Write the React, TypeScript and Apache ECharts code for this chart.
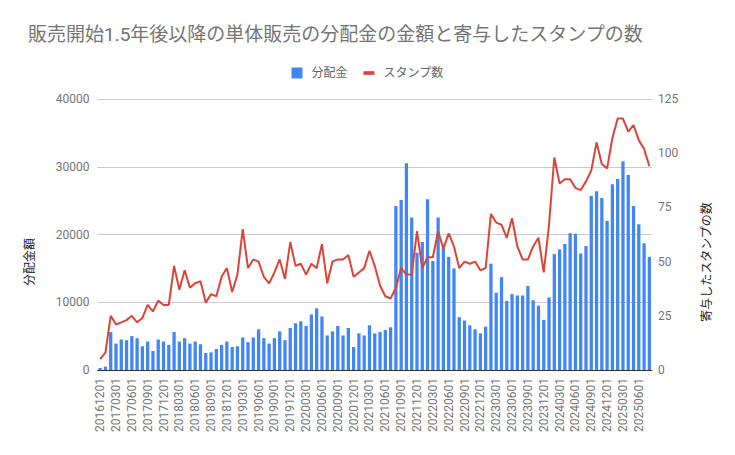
import React, { useEffect, useRef } from "react";
import * as echarts from "echarts";

const categories = [
  "20161201",
  "20170101","20170201","20170301","20170401","20170501","20170601","20170701","20170801","20170901","20171001","20171101","20171201",
  "20180101","20180201","20180301","20180401","20180501","20180601","20180701","20180801","20180901","20181001","20181101","20181201",
  "20190101","20190201","20190301","20190401","20190501","20190601","20190701","20190801","20190901","20191001","20191101","20191201",
  "20200101","20200201","20200301","20200401","20200501","20200601","20200701","20200801","20200901","20201001","20201101","20201201",
  "20210101","20210201","20210301","20210401","20210501","20210601","20210701","20210801","20210901","20211001","20211101","20211201",
  "20220101","20220201","20220301","20220401","20220501","20220601","20220701","20220801","20220901","20221001","20221101","20221201",
  "20230101","20230201","20230301","20230401","20230501","20230601","20230701","20230801","20230901","20231001","20231101","20231201",
  "20240101","20240201","20240301","20240401","20240501","20240601","20240701","20240801","20240901","20241001","20241101","20241201",
  "20250101","20250201","20250301","20250401","20250501","20250601","20250701","20250801",
];

const distribution = [
  300,
  500, 5600, 3900, 4500, 4400, 5000, 4700, 3500, 4200, 2800, 4500, 4200,
  3700, 5600, 4200, 4700, 3900, 4200, 3800, 2500, 2600, 3100, 3700, 4200,
  3400, 3500, 4800, 4100, 4800, 6000, 4700, 3900, 4700, 5700, 4400, 6200,
  6900, 7200, 6500, 8200, 9100, 7900, 5100, 5700, 6500, 5100, 6200, 3400,
  5400, 5100, 6600, 5400, 5600, 5900, 6300, 24200, 25100, 30500, 22500, 17300,
  18900, 25200, 16100, 22500, 18000, 16700, 15000, 7800, 7300, 6600, 6000, 5400,
  6400, 15700, 11400, 13700, 10200, 11200, 11000, 11000, 12400, 10300, 9500, 7400,
  10700, 17100, 17800, 18600, 20200, 20100, 17200, 18300, 25700, 26400, 25400, 22000,
  27400, 28200, 30800, 28800, 24200, 21500, 18700, 16700,
];

const stamps = [
  5,
  8, 25, 21, 22, 23, 25, 22, 24, 30, 27, 32, 30,
  30, 48, 37, 46, 38, 40, 41, 31, 35, 34, 43, 47,
  36, 44, 65, 47, 51, 50, 43, 40, 45, 51, 42, 59,
  48, 49, 44, 49, 47, 58, 40, 50, 51, 51, 53, 43,
  45, 47, 55, 48, 39, 34, 33, 38, 47, 44, 44, 64,
  47, 52, 52, 64, 56, 63, 57, 47, 50, 49, 50, 46,
  47, 72, 68, 67, 61, 70, 57, 51, 51, 57, 61, 45,
  67, 98, 86, 88, 88, 84, 83, 87, 92, 105, 95, 93,
  107, 116, 116, 110, 113, 106, 102, 94,
];

const TITLE = "販売開始1.5年後以降の単体販売の分配金の金額と寄与したスタンプの数";
const BAR_NAME = "分配金";
const LINE_NAME = "スタンプ数";
const LEFT_AXIS_NAME = "分配金額";
const RIGHT_AXIS_NAME = "寄与したスタンプの数";

const FONT = "Roboto, 'Noto Sans CJK JP', sans-serif";

export default function App() {
  const ref = useRef<HTMLDivElement>(null);

  useEffect(() => {
    if (!ref.current) return;
    const chart = echarts.init(ref.current, undefined, { renderer: "svg" });
    chart.setOption({
      animation: false,
      backgroundColor: "#ffffff",
      textStyle: { fontFamily: FONT },
      title: {
        text: TITLE,
        left: 23,
        top: 20,
        textStyle: { fontSize: 19, fontWeight: "normal", color: "#757575", fontFamily: FONT },
      },
      legend: {
        left: "center",
        top: 62,
        itemGap: 16,
        itemWidth: 11,
        itemHeight: 11,
        textStyle: { fontSize: 12, color: "#666", fontFamily: FONT, padding: [0, 0, 0, 4] },
        data: [
          { name: BAR_NAME, icon: "rect" },
          { name: LINE_NAME, icon: "path://M0,0 L12,0 L12,4 L0,4 Z" },
        ],
      },
      grid: { left: 97.5, right: 83, top: 99, bottom: 85 },
      xAxis: {
        type: "category",
        data: categories,
        axisLine: { show: true, lineStyle: { color: "#333", width: 1 } },
        axisTick: { show: false },
        axisLabel: {
          interval: 2,
          rotate: 90,
          fontSize: 12,
          color: "#757575",
          margin: 8,
          fontFamily: FONT,
        },
      },
      yAxis: [
        {
          type: "value",
          min: 0,
          max: 40000,
          interval: 10000,
          axisLine: { show: false },
          axisTick: { show: false },
          axisLabel: {
            fontSize: 12,
            color: "#757575",
            margin: 8,
            fontFamily: FONT,
            formatter: (v: number) => String(v),
          },
          splitLine: { lineStyle: { color: "#cccccc", width: 1 } },
        },
        {
          type: "value",
          min: 0,
          max: 125,
          interval: 25,
          axisLine: { show: false },
          axisTick: { show: false },
          axisLabel: {
            fontSize: 12,
            color: "#757575",
            margin: 6,
            fontFamily: FONT,
            formatter: (v: number) => String(v),
          },
          splitLine: { show: false },
        },
      ],
      graphic: [
        {
          type: "text",
          x: 30,
          y: 262,
          rotation: Math.PI / 2,
          style: {
            text: LEFT_AXIS_NAME,
            fontSize: 12,
            fill: "#222",
            fontFamily: FONT,
            align: "center",
            verticalAlign: "middle",
          },
        },
        {
          type: "text",
          x: 707,
          y: 262,
          rotation: Math.PI / 2,
          style: {
            text: RIGHT_AXIS_NAME,
            fontSize: 12,
            fill: "#222",
            fontFamily: FONT,
            align: "center",
            verticalAlign: "middle",
          },
        },
      ],
      series: [
        {
          name: BAR_NAME,
          type: "bar",
          yAxisIndex: 0,
          data: distribution,
          barWidth: "62%",
          itemStyle: { color: "#4285F4" },
        },
        {
          name: LINE_NAME,
          type: "line",
          yAxisIndex: 1,
          data: stamps,
          symbol: "none",
          lineStyle: { color: "#DB4437", width: 2 },
          itemStyle: { color: "#DB4437" },
        },
      ],
    });
    return () => chart.dispose();
  }, []);

  return (
    <div
      ref={ref}
      style={{ position: "absolute", left: 0, top: 0, width: 735, height: 455 }}
    />
  );
}
